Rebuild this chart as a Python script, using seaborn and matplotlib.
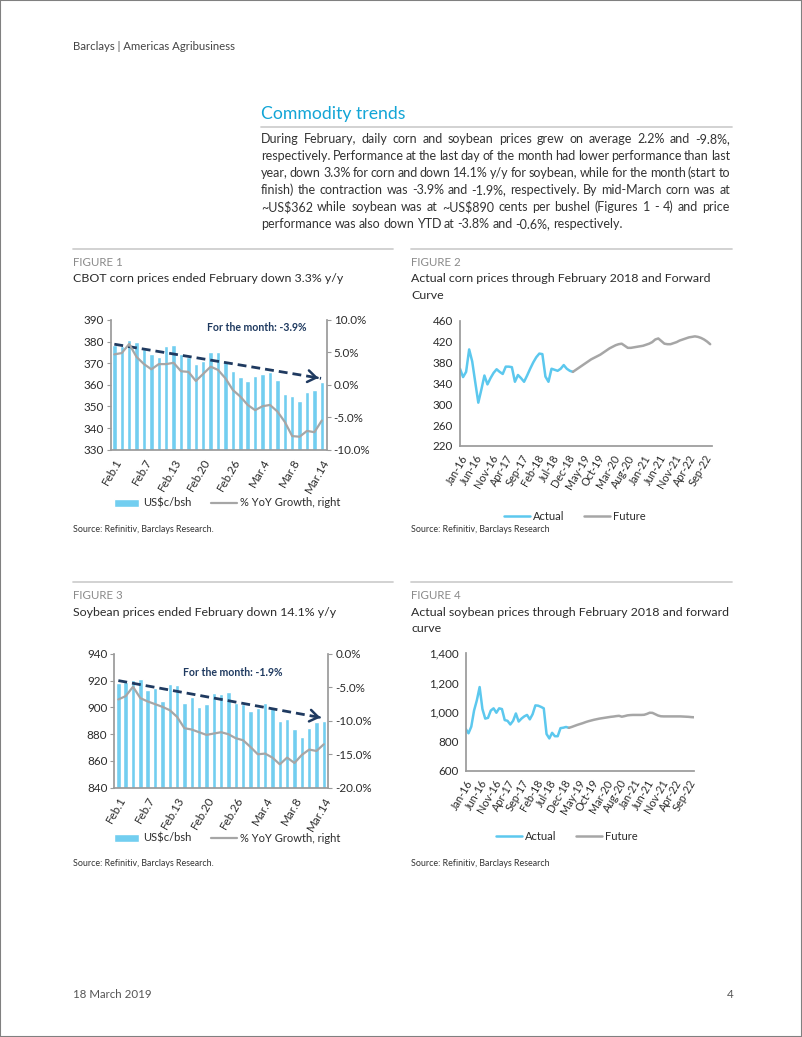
import numpy as np
import pandas as pd
import matplotlib
matplotlib.use("Agg")
import matplotlib.pyplot as plt
import seaborn as sns
from matplotlib import font_manager
from matplotlib.lines import Line2D
from matplotlib.patches import Patch, Rectangle
from matplotlib.ticker import FuncFormatter

# ---- data ----
day_labels = ["Feb.1", "Feb.7", "Feb.13", "Feb.20", "Feb.26", "Mar.4", "Mar.8", "Mar.14"]

corn_price = [378.3, 378.0, 380.9, 380.0, 376.4, 374.1, 372.7, 378.1, 378.6, 374.5,
              373.0, 369.6, 371.0, 375.3, 375.3, 370.9, 366.4, 363.6, 361.9, 364.0,
              365.0, 366.0, 362.4, 355.9, 354.7, 352.5, 356.7, 357.4, 361.5]
corn_yoy = [4.7, 4.9, 6.3, 4.3, 3.2, 2.4, 3.2, 3.2, 3.4, 2.1,
            2.0, 0.6, 1.7, 2.8, 2.3, 1.0, -0.8, -1.8, -3.1, -3.9,
            -3.3, -3.1, -4.1, -5.7, -7.9, -8.0, -7.1, -7.3, -5.5]

soy_price = [918.1, 919.3, 920.5, 921.5, 913.0, 914.3, 905.0, 917.3, 916.5, 903.3,
             907.8, 900.3, 902.6, 910.8, 910.0, 911.3, 903.6, 902.8, 897.6, 899.3,
             903.3, 899.6, 889.6, 891.1, 883.6, 877.9, 884.4, 889.1, 889.6]
soy_yoy = [-6.8, -6.3, -4.9, -6.6, -7.1, -7.5, -7.9, -8.4, -9.4, -11.1,
           -11.3, -11.7, -12.1, -11.9, -11.7, -12.0, -12.6, -12.9, -13.9, -15.0,
           -14.9, -15.5, -16.5, -15.5, -16.3, -15.1, -14.3, -14.5, -13.5]

month_labels = ["Jan-16", "Jun-16", "Nov-16", "Apr-17", "Sep-17", "Feb-18", "Jul-18",
                "Dec-18", "May-19", "Oct-19", "Mar-20", "Aug-20", "Jan-21", "Jun-21",
                "Nov-21", "Apr-22", "Sep-22"]

corn_actual = [368, 352, 362, 405, 382, 342, 303, 328, 355, 338, 350, 360, 367, 362,
               358, 372, 372, 371, 343, 356, 350, 343, 355, 368, 380, 390, 397, 396,
               353, 343, 368, 366, 364, 368, 375, 368, 364, 362]
corn_future = [362, 366, 370, 374, 378, 382, 386, 389, 392, 395, 399, 403, 407, 410,
               413, 415, 416, 412, 408, 408, 409, 410, 411, 412, 414, 416, 419, 424,
               426, 421, 416, 415, 415, 417, 419, 422, 424, 426, 428, 429, 430, 429,
               427, 424, 420, 415]

soy_actual = [885, 855, 900, 1010, 1080, 1170, 1020, 955, 960, 1010, 1025, 995, 1025,
              1020, 945, 940, 915, 940, 990, 935, 955, 970, 980, 950, 985, 1045, 1043,
              1035, 1025, 850, 820, 858, 835, 835, 890, 893, 898, 892]
soy_future = [892, 898, 905, 912, 918, 924, 931, 937, 942, 947, 951, 955, 958, 961, 964,
              967, 969, 972, 974, 968, 972, 977, 979, 980, 980, 980, 980, 981, 987, 995,
              994, 985, 976, 971, 970, 970, 970, 970, 970, 970, 970, 969, 968, 967, 965,
              964]

para_lines = [
    "During February, daily corn and soybean prices grew on average 2.2% and -9.8%,",
    "respectively. Performance at the last day of the month had lower performance than last",
    "year, down 3.3% for corn and down 14.1% y/y for soybean, while for the month (start to",
    "finish) the contraction was -3.9% and -1.9%, respectively. By mid-March corn was at",
    "~US$362 while soybean was at ~US$890 cents per bushel (Figures 1 - 4) and price",
    "performance was also down YTD at -3.8% and -0.6%, respectively.",
]

# ---- style ----
W, H = 802, 1037
sns.set_theme(style="white")
names = {f.name for f in font_manager.fontManager.ttflist}
body_font = "Liberation Sans Narrow" if "Liberation Sans Narrow" in names else "Lato"
plt.rcParams["font.family"] = ["Lato", "DejaVu Sans"]

bar_c = "#72cef0"
act_c = "#5cc8ee"
gray_c = "#a6a6a6"
navy = "#1f3a60"
spine_c = "#9a9a9a"
txt_c = "#2b2b2b"
cyan = "#12a5d6"
tick_fs = 8.4

fig = plt.figure(figsize=(W / 100, H / 100), dpi=100)


def px_axes(x0, y0, x1, y1):
    return fig.add_axes([x0 / W, 1 - y1 / H, (x1 - x0) / W, (y1 - y0) / H])


def ftext(x, y, s, **kw):
    kw.setdefault("va", "center")
    return fig.text(x / W, 1 - y / H, s, **kw)


def hline(x0, x1, y, color="#cfcfcf", lw=1.3):
    fig.add_artist(Line2D([x0 / W, x1 / W], [1 - y / H, 1 - y / H], color=color, lw=lw))


def style_axis(ax, right=False):
    for side in ["top", "left", "right", "bottom"]:
        ax.spines[side].set_visible(False)
    ax.spines["bottom"].set_visible(True)
    ax.spines["bottom"].set_color(spine_c)
    side = "right" if right else "left"
    ax.spines[side].set_visible(True)
    ax.spines[side].set_color(spine_c)
    ax.tick_params(axis="both", which="both", direction="out", length=3, width=0.8,
                   color=spine_c, labelsize=tick_fs, labelcolor=txt_c, pad=2)
    ax.grid(False)


def daily_chart(box, price, yoy, ylim, rlim, note, note_xy, offs, xlim):
    ax = px_axes(*box)
    x = np.arange(len(price))
    sns.barplot(x=x, y=price, color=bar_c, saturation=1, width=0.6, ax=ax)
    axr = ax.twinx()
    sns.lineplot(x=x, y=yoy, color=gray_c, lw=1.6, ax=axr)
    ax.set_ylim(*ylim)
    ax.set_yticks(np.linspace(ylim[0], ylim[1], 6 if ylim[1] - ylim[0] == 100 else 7))
    axr.set_ylim(*rlim)
    axr.set_yticks(np.linspace(rlim[0], rlim[1], 5))
    axr.yaxis.set_major_formatter(FuncFormatter(lambda v, p: f"{v:.1f}%"))
    ax.set_xlim(*xlim)
    ax.set_xticks(x)
    ax.set_xticklabels([day_labels[i // 4] if i % 4 == 0 else "" for i in x],
                       rotation=60, ha="right", rotation_mode="anchor")
    ax.set_xlabel("")
    ax.set_ylabel("")
    axr.set_ylabel("")
    style_axis(ax)
    style_axis(axr, right=True)
    axr.spines["bottom"].set_visible(False)
    # start-to-finish trend arrow
    x0, x1 = 0, len(price) - 1.1
    y0, y1 = price[0] + offs[0], price[-1] + offs[1]
    ax.plot([x0, x1], [y0, y1], color=navy, lw=2, ls=(0, (3.2, 1.8)), zorder=5)
    t = 0.97
    ax.annotate("", xy=(x1, y1), xytext=(x0 + t * (x1 - x0), y0 + t * (y1 - y0)),
                arrowprops=dict(arrowstyle="->,head_length=0.5,head_width=0.35",
                                color=navy, lw=1.8), zorder=6)
    ax.text(note_xy[0], note_xy[1], note, transform=ax.transAxes, ha="center",
            va="center", fontsize=7.6, color=navy, fontweight="bold")
    return ax


def curve_chart(box, actual, future, ylim, step, xlim, fmt):
    ax = px_axes(*box)
    xa = np.arange(len(actual))
    xf = np.arange(len(actual) - 1, len(actual) - 1 + len(future))
    sns.lineplot(x=xa, y=actual, color=act_c, lw=1.8, ax=ax)
    sns.lineplot(x=xf, y=future, color=gray_c, lw=1.8, ax=ax)
    ax.set_ylim(*ylim)
    ax.set_yticks(np.arange(ylim[0], ylim[1] + 1, step))
    ax.yaxis.set_major_formatter(FuncFormatter(fmt))
    ax.set_xlim(*xlim)
    ax.set_xticks(np.arange(0, 5 * len(month_labels), 5))
    ax.set_xticklabels(month_labels, rotation=60, ha="right", rotation_mode="anchor")
    style_axis(ax)
    ax.tick_params(axis="x", labelsize=7.8)
    return ax


# ---- page text ----
ftext(73, 46, "Barclays | Americas Agribusiness", fontsize=8.2, color="#444444")
ftext(261, 114, "Commodity trends", fontsize=12.7, color=cyan)
hline(261, 732, 127)

renderer = fig.canvas.get_renderer()
for i, line in enumerate(para_lines):
    y = 140 + i * 16.9 + 3.4
    words = line.split(" ")
    arts = [ftext(0, y, w, fontsize=9.0, color="#333333", family=body_font,
                  va="baseline") for w in words]
    widths = [a.get_window_extent(renderer).width for a in arts]
    if i < len(para_lines) - 1:
        gap = (730 - 261 - sum(widths)) / (len(words) - 1)
    else:
        gap = 2.8
    xx = 261
    for a, wd in zip(arts, widths):
        a.set_x(xx / W)
        xx += wd + gap

for (x0, x1, ys, num, titles) in [
    (73, 393, 249, "FIGURE 1", ["CBOT corn prices ended February down 3.3% y/y"]),
    (411, 732, 249, "FIGURE 2", ["Actual corn prices through February 2018 and Forward", "Curve"]),
    (73, 393, 582, "FIGURE 3", ["Soybean prices ended February down 14.1% y/y"]),
    (411, 732, 582, "FIGURE 4", ["Actual soybean prices through February 2018 and forward", "curve"]),
]:
    hline(x0, x1, ys)
    ftext(x0, ys + 13.5, num, fontsize=8.3, color="#8a8a8a")
    for k, tl in enumerate(titles):
        ftext(x0, ys + 30 + k * 17, tl, fontsize=8.9, color=txt_c)

ftext(73, 530, "Source: Refinitiv, Barclays Research.", fontsize=6.4, color="#333333")
ftext(411, 530, "Source: Refinitiv, Barclays Research", fontsize=6.4, color="#333333")
ftext(73, 863, "Source: Refinitiv, Barclays Research.", fontsize=6.4, color="#333333")
ftext(411, 863, "Source: Refinitiv, Barclays Research", fontsize=6.4, color="#333333")
ftext(73, 995, "18 March 2019", fontsize=8.3, color="#555555")
ftext(727, 995, "4", fontsize=8.3, color="#555555")

# ---- charts ----
daily_chart((110.7, 320, 326.7, 449.7), corn_price, corn_yoy, (330, 390), (-10, 10),
            "For the month: -3.9%", (0.677, 0.946), (0.5, 1.5), (-0.49, 28.66))
daily_chart((114.3, 654, 328.3, 787.7), soy_price, soy_yoy, (840, 940), (-20, 0),
            "For the month: -1.9%", (0.555, 0.858), (2.0, 2.5), (-0.55, 28.61))

curve_chart((460, 320.7, 711.7, 446), corn_actual, corn_future, (220, 460), 40,
            (0, 82.5), lambda v, p: f"{v:.0f}")
curve_chart((465.7, 653.3, 694.3, 770.7), soy_actual, soy_future, (600, 1400), 200,
            (0, 82), lambda v, p: f"{v:,.0f}")

bar_handles = [Patch(facecolor=bar_c), Line2D([], [], color=gray_c, lw=1.6)]
bar_labels = ["US$c/bsh", "% YoY Growth, right"]
curve_handles = [Line2D([], [], color=act_c, lw=1.8), Line2D([], [], color=gray_c, lw=1.8)]
curve_labels = ["Actual", "Future"]
for handles, labels, (cx, cy) in [(bar_handles, bar_labels, (227, 503)),
                                  (curve_handles, curve_labels, (575, 516)),
                                  (bar_handles, bar_labels, (227, 838)),
                                  (curve_handles, curve_labels, (567, 836))]:
    fig.legend(handles, labels, loc="center", bbox_to_anchor=(cx / W, 1 - cy / H),
               ncol=2, frameon=False, fontsize=8.0, handlelength=2.3,
               handletextpad=0.3, columnspacing=1.8, labelcolor=txt_c)

fig.add_artist(Rectangle((0, 0), 1, 1, transform=fig.transFigure, fill=False,
                         edgecolor="#808080", lw=1.5))

fig.savefig("out.png", dpi=100, facecolor="white")
